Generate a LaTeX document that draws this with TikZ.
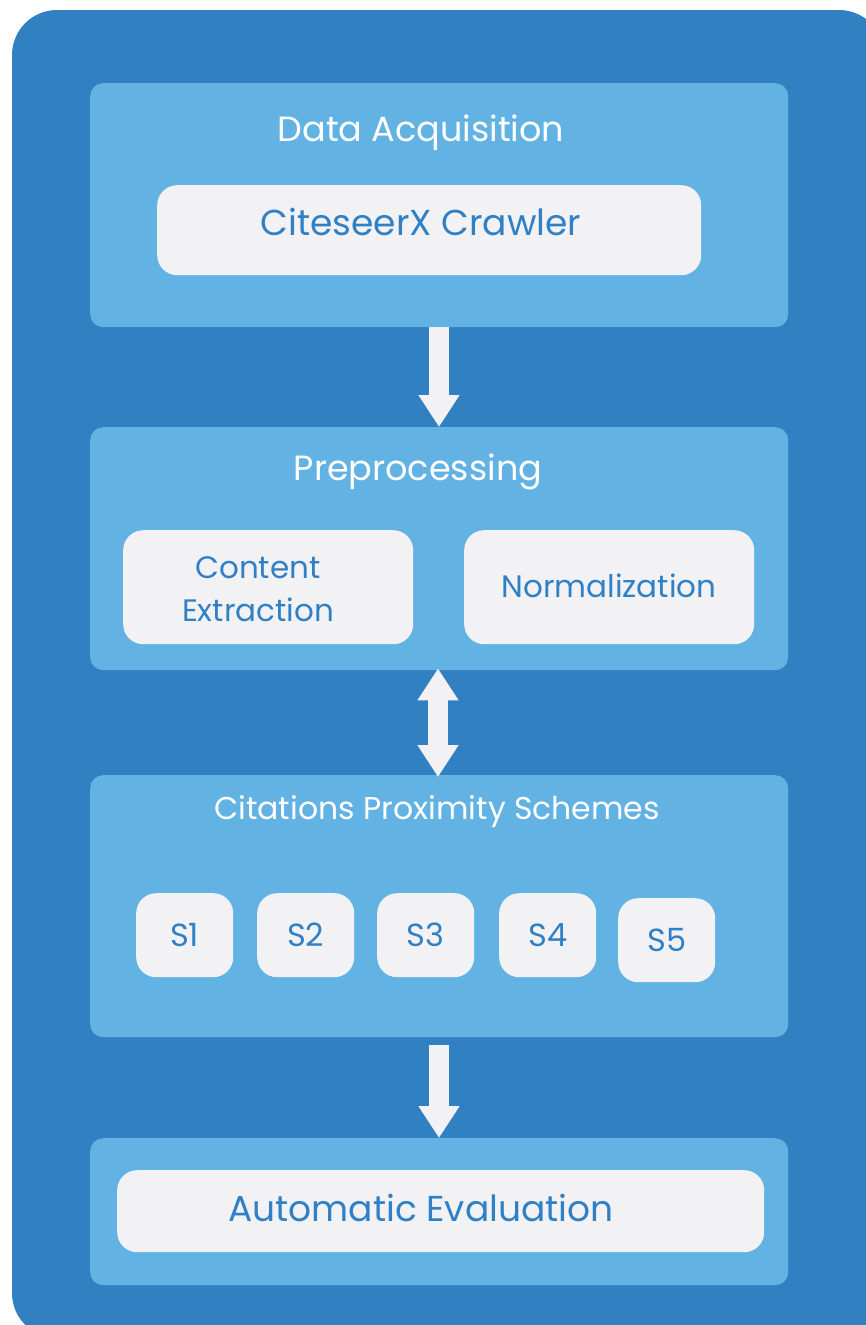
\documentclass[tikz,border=0pt]{standalone}
\usepackage{fontspec}
\setmainfont{Poppins}
\usetikzlibrary{arrows.meta}
\definecolor{outerblue}{HTML}{3180C2}
\definecolor{panelblue}{HTML}{62B3E4}
\definecolor{boxwhite}{HTML}{F2F2F4}
\definecolor{textblue}{HTML}{3080C6}
\tikzset{
  panel/.style={fill=panelblue, draw=none, rounded corners=13pt, inner sep=0pt, anchor=north west},
  whitebox/.style={fill=boxwhite, draw=none, rounded corners=20pt, inner sep=0pt, anchor=north west},
  title/.style={text=white, font=\fontsize{35}{42}\selectfont, inner sep=0pt},
  label/.style={text=textblue, font=\fontsize{36}{43}\selectfont, inner sep=0pt, align=center},
  smalllabel/.style={text=textblue, font=\fontsize{31}{43}\selectfont, inner sep=0pt, align=center},
  slabel/.style={text=textblue, font=\fontsize{32}{38}\selectfont, inner sep=0pt},
  fatarrow/.style={draw=boxwhite, line width=20pt,
    -{Triangle[width=39pt,length=32pt]}},
  fatdouble/.style={draw=boxwhite, line width=20pt,
    {Triangle[width=39pt,length=32pt]}-{Triangle[width=39pt,length=32pt]}}
}
\begin{document}
\begin{tikzpicture}[x=1pt,y=-1pt]
\useasboundingbox (0,0) rectangle (866,1325);
\fill[outerblue, rounded corners=45pt] (12,10) rectangle (884,1338);

% panels
\node[panel, minimum width=698pt, minimum height=244pt] (p1) at (90,83) {};
\node[panel, minimum width=698pt, minimum height=243pt] (p2) at (90,427) {};
\node[panel, minimum width=698pt, minimum height=262pt] (p3) at (90,775) {};
\node[panel, minimum width=698pt, minimum height=147pt] (p4) at (90,1138) {};

% titles
\node[title] (t1) at (421,133) {Data Acquisition};
\node[title] (t2) at (418,472) {Preprocessing};
\node[title, font=\fontsize{31.5}{38}\selectfont] (t3) at (437,812) {Citations Proximity Schemes};

% white boxes
\node[whitebox, minimum width=544pt, minimum height=90pt] (b1) at (157,185) {};
\node[label] (l1) at (421,222) {CiteseerX Crawler};

\node[whitebox, minimum width=290pt, minimum height=114pt] (b2) at (123,530) {};
\node[smalllabel] (l2) at (258,589) {Content\\Extraction};

\node[whitebox, minimum width=290pt, minimum height=114pt] (b3) at (464,530) {};
\node[smalllabel] (l3) at (609,586) {Normalization};

\foreach \n/\x/\y in {1/136/893, 2/257/893, 3/377/893, 4/499/893, 5/618/898}{
  \node[whitebox, minimum width=97pt, minimum height=84pt] (s\n) at (\x,\y) {};
  \node[slabel] (ls\n) at (s\n.center) {S\n};
}

\node[whitebox, minimum width=647pt, minimum height=82pt] (b4) at (117,1170) {};
\node[label] (l4) at (421,1208) {Automatic Evaluation};

% connectors
\draw[fatarrow] (p1.south -| 439,0) -- (p2.north -| 439,0);
\draw[fatdouble, shorten <=-2pt, shorten >=-2pt] (p2.south -| 438,0) -- (p3.north -| 438,0);
\draw[fatarrow, shorten <=8pt] (p3.south -| 439,0) -- (p4.north -| 439,0);
\end{tikzpicture}
\end{document}
